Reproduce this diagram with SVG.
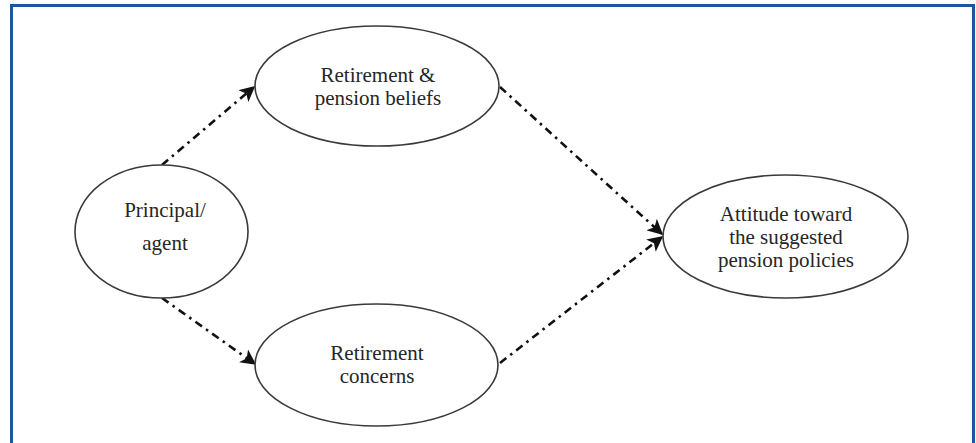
<svg xmlns="http://www.w3.org/2000/svg" width="976" height="443" viewBox="0 0 976 443">
<style>
.node ellipse{fill:#fff;stroke:#3a3a3a;stroke-width:1.6}
.node text{font-family:"Liberation Serif","Times New Roman",serif;font-size:21px;fill:#262626;text-anchor:middle}
.conn line{stroke:#111;stroke-width:2.6;stroke-dasharray:8 5 2.5 5;fill:none}
</style>
<defs>
<marker id="ah" viewBox="0 0 10 10" refX="9" refY="5" markerWidth="6" markerHeight="6" orient="auto" markerUnits="strokeWidth">
<path d="M0,0 L10,5 L0,10 L2.5,5 z" fill="#111"/>
</marker>
</defs>
<rect x="0" y="0" width="976" height="443" fill="#fff"/>
<path d="M11.5,450 L11.5,5.5 L973.5,5.5 L973.5,450" fill="none" stroke="#1d56a0" stroke-width="3"/>
<g class="conn">
<line x1="162" y1="165" x2="254" y2="87" marker-end="url(#ah)"/>
<line x1="162" y1="298" x2="255" y2="364" marker-end="url(#ah)"/>
<line x1="500" y1="87" x2="662" y2="234" marker-end="url(#ah)"/>
<line x1="500" y1="363" x2="662" y2="237" marker-end="url(#ah)"/>
</g>
<g id="principal" class="node">
<ellipse cx="161.5" cy="231.5" rx="86.5" ry="66.5"/>
<text x="165" y="217">Principal/</text>
<text x="165" y="250">agent</text>
</g>
<g id="beliefs" class="node">
<ellipse cx="377" cy="86" rx="122" ry="60"/>
<text x="378" y="82">Retirement &amp;</text>
<text x="378" y="105">pension beliefs</text>
</g>
<g id="concerns" class="node">
<ellipse cx="376.5" cy="365" rx="121.5" ry="61"/>
<text x="377" y="360">Retirement</text>
<text x="377" y="383">concerns</text>
</g>
<g id="attitude" class="node">
<ellipse cx="785.5" cy="236.5" rx="122.5" ry="61.5"/>
<text x="786" y="221">Attitude toward</text>
<text x="786" y="244">the suggested</text>
<text x="786" y="267">pension policies</text>
</g>
</svg>
